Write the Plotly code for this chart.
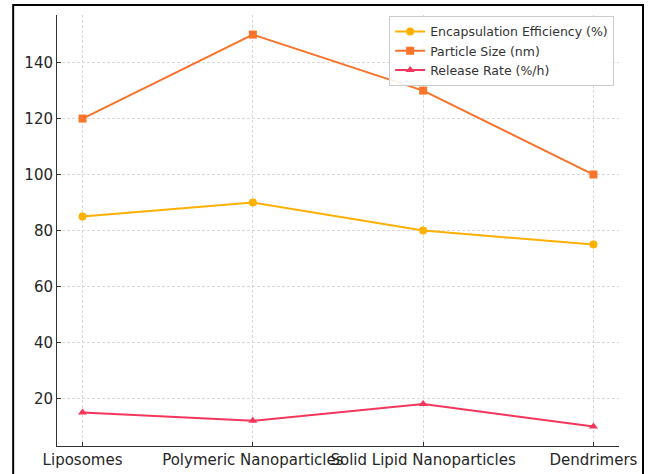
import plotly.graph_objects as go

# Nanocarrier comparison data
carriers = ["Liposomes", "Polymeric Nanoparticles", "Solid Lipid Nanoparticles", "Dendrimers"]
encapsulation_efficiency = [85, 90, 80, 75]
particle_size = [120, 150, 130, 100]
release_rate = [15, 12, 18, 10]

series = [
    ("Encapsulation Efficiency (%)", encapsulation_efficiency, "#FFB000", "circle"),
    ("Particle Size (nm)", particle_size, "#F9732A", "square"),
    ("Release Rate (%/h)", release_rate, "#F5365C", "triangle-up"),
]

fig = go.Figure()
for name, values, color, symbol in series:
    fig.add_trace(go.Scatter(
        x=carriers, y=values, name=name, mode="lines+markers",
        line=dict(color=color, width=2),
        marker=dict(symbol=symbol, size=8, color=color),
    ))

font_family = "DejaVu Sans, sans-serif"
grid_style = dict(showgrid=True, gridcolor="#d9d9d9", gridwidth=0.8, griddash="3px,2px")

fig.update_layout(
    width=648, height=474,
    margin=dict(l=57, r=29, t=15, b=28),
    paper_bgcolor="white", plot_bgcolor="white",
    font=dict(family=font_family, size=15, color="#262626"),
    showlegend=True,
    legend=dict(
        x=0.591, y=0.998, xanchor="left", yanchor="top",
        bgcolor="rgba(255,255,255,0.9)", bordercolor="#cccccc", borderwidth=1,
        font=dict(family=font_family, size=12.5, color="#333333"),
        tracegroupgap=0, itemwidth=30,
    ),
    xaxis=dict(
        type="category", range=[-0.15, 3.15], tickangle=0, automargin=False,
        showline=True, linecolor="#333333", linewidth=1, mirror=False,
        ticks="inside", ticklen=4, tickcolor="#333333",
        zeroline=False, **grid_style,
    ),
    yaxis=dict(
        range=[3, 157], tickvals=[20, 40, 60, 80, 100, 120, 140], automargin=False,
        showline=True, linecolor="#333333", linewidth=1, mirror=False,
        ticks="inside", ticklen=4, tickcolor="#333333",
        zeroline=False, **grid_style,
    ),
    shapes=[dict(
        type="rect", xref="paper", yref="paper",
        x0=-0.078, x1=1.0427, y0=-0.09, y1=1.023,
        line=dict(color="black", width=2), fillcolor="rgba(0,0,0,0)",
        layer="above",
    )],
)

fig.write_html("out.html")
